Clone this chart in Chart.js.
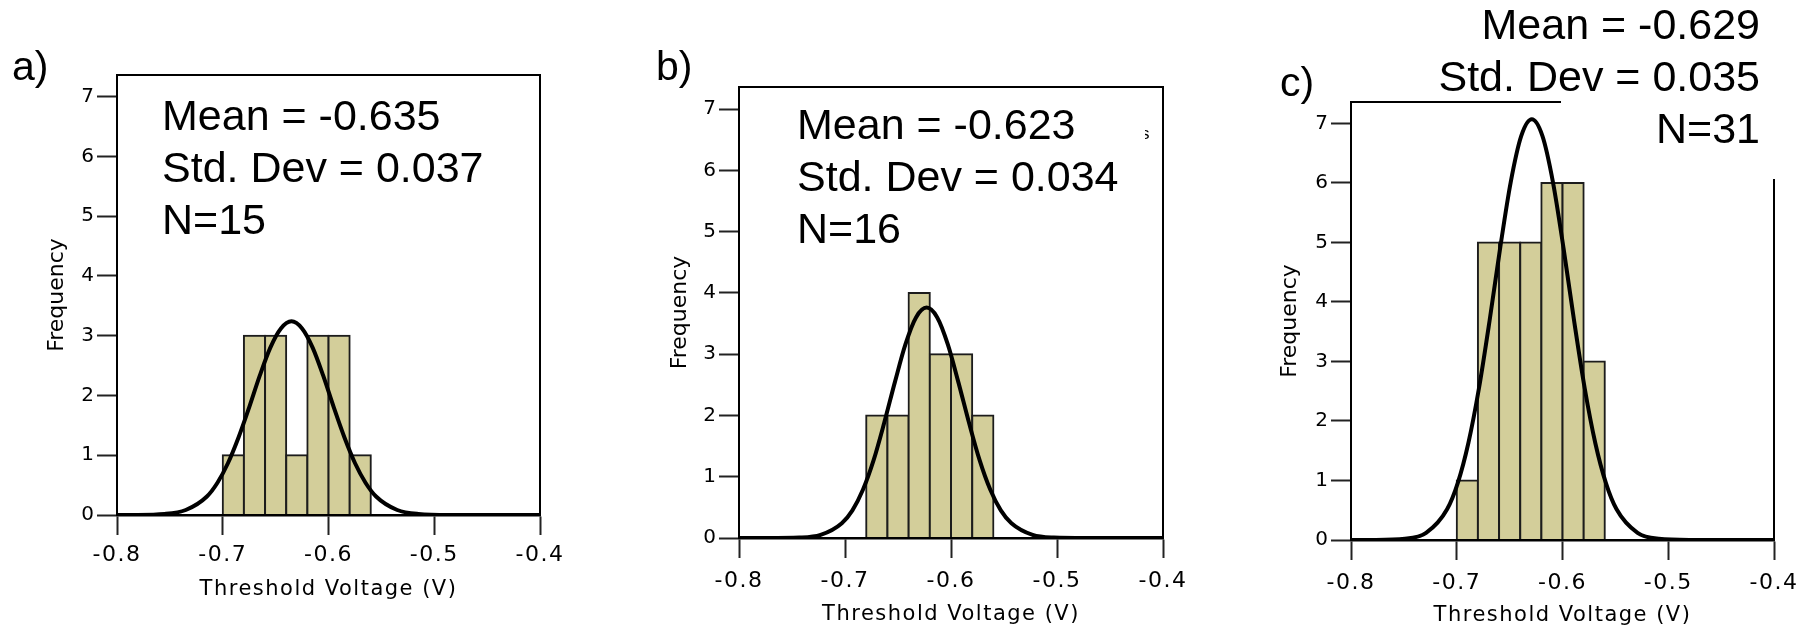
<!DOCTYPE html>
<html>
<head>
<meta charset="utf-8">
<title>Threshold voltage histograms</title>
<script src="https://cdn.jsdelivr.net/npm/chart.js@4.4.0/dist/chart.umd.min.js"></script>
<style>
  html, body { margin: 0; padding: 0; background: #fff; }
  #page { position: relative; width: 1810px; height: 629px; overflow: hidden; background: #fff; }
  #page canvas { position: absolute; top: 0; }
  .txt { position: absolute; font-family: "Liberation Sans", Arial, sans-serif; color: #000; white-space: pre; }
  .stats { font-size: 43px; line-height: 52px; }
  .tag { font-size: 41px; line-height: 46px; }
</style>
</head>
<body>
<div id="page">
  <canvas id="chartA" width="600" height="629" style="left:0px"></canvas>
  <canvas id="chartB" width="630" height="629" style="left:600px"></canvas>
  <canvas id="chartC" width="580" height="629" style="left:1230px"></canvas>

  <div class="txt tag" id="tagA" style="left:12px;top:43px"></div>
  <div class="txt tag" id="tagB" style="left:656px;top:43px"></div>
  <div class="txt tag" id="tagC" style="left:1280px;top:59px"></div>

  <div class="txt stats" id="statsA" style="left:162px;top:89px"></div>
  <div class="txt stats" id="statsB" style="left:797px;top:98px"></div>
  <div class="txt" style="left:1145px;top:124px;width:7px;height:22px;overflow:hidden;font-size:17px"><span style="margin-left:-4px">s</span></div>

  <div style="position:absolute;left:1561px;top:0;width:249px;height:179px;background:#fff"></div>
  <div class="txt stats" id="statsC" style="right:50px;top:-2px;text-align:right"></div>
</div>

<script>
// axis ticks and titles
const xTicks = [-0.8, -0.7, -0.6, -0.5, -0.4];
const yTicks = [0, 1, 2, 3, 4, 5, 6, 7];
const xTitle = 'Threshold Voltage (V)';
const yTitle = 'Frequency';
const tags = ['a)', 'b)', 'c)'];

// histogram bins (centres, bin width 0.02 V) and counts
const binsA = [-0.69, -0.67, -0.65, -0.63, -0.61, -0.59, -0.57];
const countsA = [1, 3, 3, 1, 3, 3, 1];
const binsB = [-0.67, -0.65, -0.63, -0.61, -0.59, -0.57];
const countsB = [2, 2, 4, 3, 3, 2];
const binsC = [-0.69, -0.67, -0.65, -0.63, -0.61, -0.59, -0.57];
const countsC = [1, 5, 5, 5, 6, 6, 3];

// fitted curves
const curveXA = [-0.8, -0.785, -0.755, -0.735, -0.715, -0.705, -0.695, -0.685, -0.675, -0.665, -0.655, -0.645, -0.635,
                 -0.625, -0.615, -0.605, -0.595, -0.585, -0.575, -0.565, -0.555, -0.535, -0.515, -0.485, -0.4];
const curveYA = [0, 0.001, 0.017, 0.084, 0.31, 0.54, 0.87, 1.30, 1.80, 2.33, 2.80, 3.12, 3.24,
                 3.12, 2.80, 2.33, 1.80, 1.30, 0.87, 0.54, 0.31, 0.084, 0.017, 0.001, 0];
const curveXB = [-0.8, -0.773, -0.743, -0.723, -0.703, -0.693, -0.683, -0.673, -0.663, -0.653, -0.643, -0.633, -0.623,
                 -0.613, -0.603, -0.593, -0.583, -0.573, -0.563, -0.553, -0.543, -0.523, -0.503, -0.473, -0.4];
const curveYB = [0, 0, 0.007, 0.05, 0.24, 0.45, 0.79, 1.27, 1.88, 2.54, 3.16, 3.60, 3.76,
                 3.60, 3.16, 2.54, 1.88, 1.27, 0.79, 0.45, 0.24, 0.05, 0.007, 0, 0];
const curveXC = [-0.8, -0.779, -0.749, -0.729, -0.709, -0.699, -0.689, -0.679, -0.669, -0.659, -0.649, -0.639, -0.629,
                 -0.619, -0.609, -0.599, -0.589, -0.579, -0.569, -0.559, -0.549, -0.529, -0.509, -0.479, -0.4];
const curveYC = [0, 0.001, 0.02, 0.12, 0.52, 0.96, 1.63, 2.55, 3.68, 4.90, 6.01, 6.79, 7.07,
                 6.79, 6.01, 4.90, 3.68, 2.55, 1.63, 0.96, 0.52, 0.12, 0.02, 0.001, 0];

const statsA = ['Mean = -0.635', 'Std. Dev = 0.037', 'N=15'];
const statsB = ['Mean = -0.623', 'Std. Dev = 0.034', 'N=16'];
const statsC = ['Mean = -0.629', 'Std. Dev = 0.035', 'N=31'];

const Y_MAX = 7.36;
const BAR_FILL = '#d3ce9a';
const BAR_EDGE = '#1c1c1c';
const AXIS_FONT = "'DejaVu Sans', sans-serif";

// top and right sides of the plot box
const framePlugin = {
    id: 'frame',
    afterDatasetsDraw(chart) {
        const {ctx, chartArea: a} = chart;
        ctx.save();
        ctx.strokeStyle = '#000';
        ctx.lineWidth = 2;
        ctx.beginPath();
        ctx.moveTo(a.left, a.top);
        ctx.lineTo(a.right, a.top);
        ctx.lineTo(a.right, a.bottom);
        ctx.stroke();
        ctx.restore();
    }
};

// the x axis text in the original is drawn wide
const spacingPlugin = {
    id: 'spacing',
    afterDatasetsDraw(chart) { chart.ctx.letterSpacing = '1.5px'; },
    afterDraw(chart) { chart.ctx.letterSpacing = '0px'; }
};

const panels = [
    { canvas: 'chartA', left: 0, area: {l: 117, t: 75, r: 540, b: 515}, yTitleX: 57, xTitleY: 590, labelPad: 7,
      bins: binsA, counts: countsA, cx: curveXA, cy: curveYA },
    { canvas: 'chartB', left: 600, area: {l: 739, t: 87, r: 1163, b: 538}, yTitleX: 680, xTitleY: 615, labelPad: 10,
      bins: binsB, counts: countsB, cx: curveXB, cy: curveYB },
    { canvas: 'chartC', left: 1230, area: {l: 1351, t: 102, r: 1774, b: 540}, yTitleX: 1290, xTitleY: 616, labelPad: 10,
      bins: binsC, counts: countsC, cx: curveXC, cy: curveYC }
];

function buildPanel(p) {
    const canvas = document.getElementById(p.canvas);
    const W = canvas.width, H = canvas.height;
    return new Chart(canvas, {
        type: 'bar',
        data: {
            datasets: [{
                type: 'line',
                data: p.cx.map((x, i) => ({x: x, y: p.cy[i]})),
                borderColor: '#000',
                borderWidth: 4,
                pointRadius: 0,
                fill: false,
                cubicInterpolationMode: 'monotone',
                order: 0
            }, {
                type: 'bar',
                data: p.bins.map((x, i) => ({x: x, y: p.counts[i]})),
                backgroundColor: BAR_FILL,
                borderColor: BAR_EDGE,
                borderWidth: 2,
                inflateAmount: 1,
                borderSkipped: 'start',
                barPercentage: 1,
                categoryPercentage: 1,
                order: 1
            }]
        },
        options: {
            responsive: false,
            animation: false,
            events: [],
            layout: { padding: { left: 0, top: p.area.t, right: p.left + W - p.area.r, bottom: 0 } },
            plugins: { legend: { display: false }, tooltip: { enabled: false } },
            scales: {
                x: {
                    type: 'linear', min: -0.8, max: -0.4, offset: false,
                    afterFit: s => { s.height = H - p.area.b; },
                    afterBuildTicks: s => { s.ticks = xTicks.map(v => ({value: v})); },
                    grid: { offset: false, drawOnChartArea: false, drawTicks: true, tickLength: 20, tickWidth: 2, tickColor: '#222', z: 1 },
                    border: { display: true, color: '#000', width: 2.5, z: 1 },
                    ticks: { autoSkip: false, maxRotation: 0, padding: p.labelPad, color: '#000',
                             font: { family: AXIS_FONT, size: 22 }, callback: v => v.toFixed(1), z: 1 },
                    title: { display: true, text: xTitle, color: '#000', font: { family: AXIS_FONT, size: 21 },
                             padding: { top: 0, bottom: H - p.xTitleY - 12.6 } }
                },
                y: {
                    min: 0, max: Y_MAX,
                    afterFit: s => { s.width = p.area.l - p.left; },
                    afterBuildTicks: s => { s.ticks = yTicks.map(v => ({value: v})); },
                    grid: { drawOnChartArea: false, drawTicks: true, tickLength: 20, tickWidth: 2, tickColor: '#222' },
                    border: { display: true, color: '#000', width: 2 },
                    ticks: { padding: 3, color: '#000', font: { family: AXIS_FONT, size: 20 } },
                    title: { display: true, text: yTitle, color: '#000', font: { family: AXIS_FONT, size: 22 },
                             padding: { top: p.yTitleX - p.left - 13, bottom: 0 } }
                }
            }
        },
        plugins: [framePlugin, spacingPlugin]
    });
}

panels.forEach(buildPanel);

document.getElementById('tagA').textContent = tags[0];
document.getElementById('tagB').textContent = tags[1];
document.getElementById('tagC').textContent = tags[2];
document.getElementById('statsA').textContent = statsA.join('\n');
document.getElementById('statsB').textContent = statsB.join('\n');
document.getElementById('statsC').textContent = statsC.join('\n');
</script>
</body>
</html>
